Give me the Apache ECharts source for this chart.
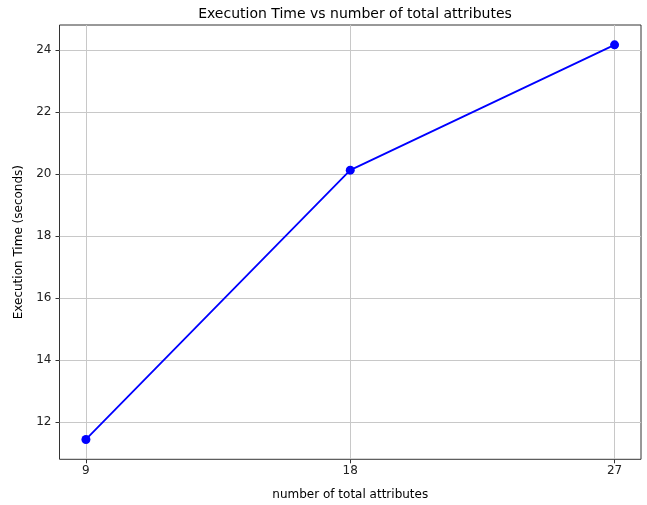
<!DOCTYPE html>
<html><head><meta charset="utf-8">
<script src="https://cdn.jsdelivr.net/npm/echarts@6/dist/echarts.min.js"></script>
<style>html,body{margin:0;padding:0;background:#fff}#c{width:647px;height:505px}</style>
</head><body><div id="c"></div>
<script>
const attributes = [9, 18, 27];
const execTimes = [11.44, 20.12, 24.16];
const xTicks = [9, 18, 27];
const yTicks = [12, 14, 16, 18, 20, 22, 24];

const chart = echarts.init(document.getElementById('c'), null, {renderer: 'canvas'});
const font = 'DejaVu Sans';
chart.setOption({
  animation: false,
  title: {text: 'Execution Time vs number of total attributes', left: 350, top: 2, textAlign: 'center',
    textStyle: {fontFamily: font, fontSize: 14, fontWeight: 'normal', color: '#000'}},
  grid: {left: 59.5, top: 25, width: 581.5, height: 434.3, show: true, borderColor: '#333', borderWidth: 1,
    backgroundColor: 'transparent', outerBoundsMode: 'none', containLabel: false},
  xAxis: {type: 'value', min: 8.1, max: 27.9,
    name: 'number of total attributes', nameLocation: 'middle', nameGap: 30,
    nameTextStyle: {fontFamily: font, fontSize: 12, color: '#000'},
    axisLine: {show: false},
    axisTick: {show: true, length: 4, customValues: xTicks, lineStyle: {color: '#333'}},
    axisLabel: {customValues: xTicks, fontFamily: font, fontSize: 12, color: '#222', margin: 6},
    splitLine: {show: true, lineStyle: {color: '#c8c8c8', width: 1}}
  },
  yAxis: {type: 'value', min: 10.8, max: 24.8,
    name: 'Execution Time (seconds)', nameLocation: 'middle', nameGap: 34, nameRotate: 90,
    nameTextStyle: {fontFamily: font, fontSize: 12, color: '#000'},
    axisLine: {show: false},
    axisTick: {show: true, length: 4, customValues: yTicks, lineStyle: {color: '#333'}},
    axisLabel: {customValues: yTicks, fontFamily: font, fontSize: 12, color: '#222', margin: 8},
    splitLine: {show: true, lineStyle: {color: '#c8c8c8', width: 1}}
  },
  series: [{type: 'line', data: attributes.map((a, i) => [a, execTimes[i]]),
    symbol: 'circle', symbolSize: 9, lineStyle: {color: '#0000ff', width: 1.8},
    itemStyle: {color: '#0000ff'}}]
});
</script></body></html>
